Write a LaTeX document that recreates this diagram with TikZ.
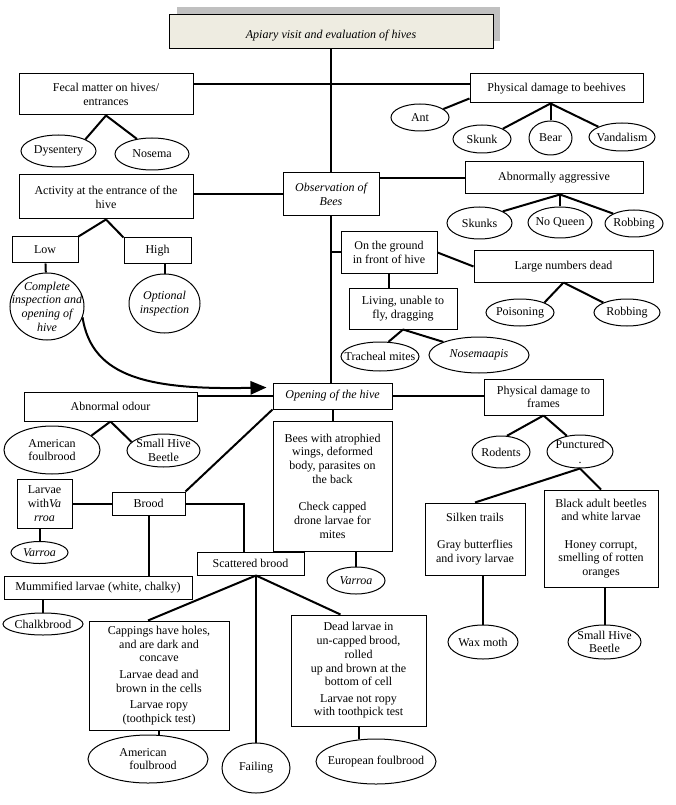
\documentclass[tikz,border=0pt]{standalone}
\usepackage{fontspec}
\setmainfont{Liberation Serif}
\usetikzlibrary{calc,arrows.meta,shapes.geometric}

\newcommand{\txtsize}{\fontsize{9}{10.3}\selectfont}

\tikzset{every picture/.style={line width=0.75pt}}
\tikzset{
  box/.style={draw, rectangle, inner sep=0.75pt, align=center, font=\txtsize},
  oval/.style={draw, ellipse, inner sep=0pt},
  ovtxt/.style={font=\txtsize, align=center, inner sep=0pt},
  ovit/.style={ovtxt, font=\txtsize\itshape},
  sz/.style 2 args={minimum width=#1*0.75pt, minimum height=#2*0.75pt},
  conn/.style={line width=1.5pt},
}

\begin{document}
\begin{tikzpicture}[x=0.75pt,y=0.75pt,yscale=-1,xscale=1]
\useasboundingbox (0,0) rectangle (675,805);

%Shape: Rectangle [id:dp_shadow]
\fill [color={rgb, 255:red, 192; green, 192; blue, 192 }] (177,7) rectangle (500,41);
%Shape: Rectangle [id:dp_title]
\node [box, sz={324}{34}, fill={rgb, 255:red, 238; green, 236; blue, 225 }, font=\txtsize\itshape, text height=12pt] (title) at (331,32) {Apiary visit and evaluation of hives};

% Text Node
\node [box, sz={174}{41}] (fecal) at (106,94.5) {Fecal matter on hives/\\entrances};
\node [box, sz={173}{29}] (phys) at (556.5,88.5) {Physical damage to beehives};
%Shape: Ellipse
\node [oval, sz={75}{32}, label={[ovtxt]center:Dysentery}] (dys) at (58.5,151) {};
\node [oval, sz={74}{32}, label={[ovtxt]center:Nosema}] (nosema) at (152,154) {};
\node [oval, sz={58}{27}, label={[ovtxt]center:Ant}] (ant) at (420,117.5) {};
\node [oval, sz={58}{28}, label={[ovtxt]center:Skunk}] (skunk) at (482,139) {};
\node [oval, sz={43}{34}, label={[ovtxt]center:Bear}] (bear) at (550.5,138) {};
\node [oval, sz={66}{28}, label={[ovtxt]center:Vandalism}] (vand) at (622,137) {};

% Text Node
\node [box, sz={174}{44}] (act) at (106,197) {Activity at the entrance of the\\hive};
\node [box, sz={96}{43}, font=\txtsize\itshape] (obs) at (331,194.5) {Observation of\\Bees};
\node [box, sz={178}{32}] (aggr) at (554,178) {Abnormally aggressive};
%Shape: Ellipse
\node [oval, sz={65}{32}, label={[ovtxt]center:Skunks}] (skunks) at (479.5,223) {};
\node [oval, sz={64}{31}, label={[ovtxt]center:No Queen}] (noqueen) at (560,222.5) {};
\node [oval, sz={58}{27}, label={[ovtxt]center:Robbing}] (robA) at (634,223.5) {};

% Text Node
\node [box, sz={66}{26}] (low) at (45,250) {Low};
\node [box, sz={67}{26}] (high) at (157.5,251) {High};
%Shape: Circle
\node [oval, sz={74}{67}, label={[ovit]center:{Complete\\inspection and\\opening of\\hive}}] (cmpl) at (47,306.5) {};
\node [oval, sz={71}{59}, label={[ovit]center:{Optional\\inspection}}] (opt) at (164.5,303.5) {};

% Text Node
\node [box, sz={96}{41}] (ground) at (389,252.5) {On the ground\\in front of hive};
\node [box, sz={179}{31}] (large) at (563.5,266.5) {Large numbers dead};
\node [oval, sz={68}{27}, label={[ovtxt]center:Poisoning}] (poison) at (520,312.5) {};
\node [oval, sz={66}{27}, label={[ovtxt]center:Robbing}] (robB) at (627,312.5) {};
\node [box, sz={108}{41}] (living) at (403,308.5) {Living, unable to\\fly, dragging};
\node [oval, sz={78}{29}, label={[ovtxt]center:Tracheal mites}] (trach) at (380,356.5) {};
\node [oval, sz={100}{36}, label={[ovit]center:Nosemaapis}] (napis) at (479,355) {};

% Text Node
\node [box, sz={119}{26}, font=\txtsize\itshape] (opening) at (332.5,396) {Opening of the hive};
\node [box, sz={119}{36}] (frames) at (543.5,397) {Physical damage to\\frames};
\node [box, sz={173}{29}] (odour) at (110.5,406.5) {Abnormal odour};
\node [oval, sz={96}{48}, label={[ovtxt]center:{American\\foulbrood}}] (afbA) at (52,450) {};
\node [oval, sz={73}{33}, label={[ovtxt]center:{Small Hive\\Beetle}}] (shbA) at (163.5,450.5) {};

% Text Node
\node [box, sz={119}{130}] (bees) at (332.5,486) {Bees with atrophied\\wings, deformed\\body, parasites on\\the back\\[10.3pt]Check capped\\drone larvae for\\mites};
\node [oval, sz={58}{27}, label={[ovit]center:Varroa}] (varB) at (356,580.5) {};
\node [box, sz={73}{23}] (brood) at (148.5,503.5) {Brood};
\node [box, sz={55}{49}] (larvae) at (44.5,503.5) {Larvae\\with\textit{Va}\\\textit{rroa}};
\node [oval, sz={57}{22}, label={[ovit]center:Varroa}] (varA) at (39.5,552.5) {};
\node [box, sz={107}{23}] (scat) at (250.5,563.5) {Scattered brood};
\node [box, sz={188}{23}] (mumm) at (98,587.5) {Mummified larvae (white, chalky)};
\node [oval, sz={80}{22}, label={[ovtxt]center:Chalkbrood}] (chalk) at (43,624) {};

% Text Node
\node [box, sz={140}{109}] (capp) at (159,675.5) {Cappings have holes,\\and are dark and\\concave\\[2pt]Larvae dead and\\brown in the cells\\[2pt]Larvae ropy\\(toothpick test)};
\node [oval, sz={120}{48}, label={[ovtxt, align=left]center:{American\\\hspace*{7.5pt}foulbrood}}] (afbB) at (148,759) {};
\node [oval, sz={68}{50}, label={[ovtxt]center:Failing}] (fail) at (256,768) {};
\node [box, sz={135}{111}] (dead) at (358.5,670.5) {Dead larvae in\\un-capped brood,\\rolled\\up and brown at the\\bottom of cell\\[2pt]Larvae not ropy\\with toothpick test};
\node [oval, sz={120}{45}, label={[ovtxt]center:European foulbrood}] (efb) at (376,761.5) {};

% Text Node
\node [oval, sz={58}{32}, label={[ovtxt]center:Rodents}] (rodents) at (501,452) {};
\node [oval, sz={66}{33}, label={[ovtxt]center:{Punctured\\[1pt].}}] (punct) at (580,451.5) {};
\node [box, sz={100}{72}] (silken) at (475,539) {Silken trails\\[10.3pt]Gray butterflies\\and ivory larvae};
\node [box, sz={114}{97}] (black) at (601,538.5) {Black adult beetles\\and white larvae\\[10.3pt]Honey corrupt,\\smelling of rotten\\oranges};
\node [oval, sz={70}{34}, label={[ovtxt]center:Wax moth}] (wax) at (483,642) {};
\node [oval, sz={73}{34}, label={[ovtxt]center:{Small Hive\\Beetle}}] (shbB) at (604.5,642) {};

%Straight Lines
\draw [conn] (title.south) -- (obs.north);
\draw [conn] (obs.south) -- (obs.south |- opening.north);
\draw [conn] (opening.south) -- (bees.north);
\draw [conn] ($(fecal.north east)+(0,11)$) -- ($(phys.north west)+(0,11)$);
\draw [conn] (fecal.south) -- (dys.north east);
\draw [conn] (fecal.south) -- (nosema.135);
\draw [conn] ($(phys.south west)+(0,-5)$) -- (ant.20);
\draw [conn] (bear.north |- phys.south) -- (skunk.north east);
\draw [conn] (bear.north |- phys.south) -- (bear.north);
\draw [conn] (bear.north |- phys.south) -- (vand.north west);
%Straight Lines
\draw [conn] (act.east |- obs.west) -- (obs.west);
\draw [conn] (obs.east |- aggr.west) -- (aggr.west);
\draw [conn] (noqueen.north |- aggr.south) -- (skunks.north east);
\draw [conn] (noqueen.north |- aggr.south) -- (noqueen.north);
\draw [conn] (noqueen.north |- aggr.south) -- (robA.north west);
\draw [conn] (act.south) -- (low.north east);
\draw [conn] (act.south) -- (high.north west);
\draw [conn] (low) -- (cmpl);
\draw [conn] (opt.north |- high.south) -- (opt.north);
%Curve Lines
\draw [conn, -{Triangle[length=12pt, width=10pt]}] (cmpl.-17) .. controls (92,378) and (150,390) .. ($(opening.north west)+(-6,5)$);
%Straight Lines
\draw [conn] (obs.south |- ground.west) -- (ground.west);
\draw [conn] (ground.east) -- (large.west);
\draw [conn] (large.south) -- (poison.north east);
\draw [conn] (large.south) -- (robB.north west);
\draw [conn] (ground.south) -- (ground.south |- living.north);
\draw [conn] (living.south) -- (trach.60);
\draw [conn] (living.south) -- (napis.north west);
%Straight Lines
\draw [conn] (opening.east) -- (opening.east -| frames.west);
\draw [conn] (frames.south) -- (rodents.70);
\draw [conn] (frames.south) -- (punct.130);
\draw [conn] (punct.south) -- (silken.north);
\draw [conn] (punct.south) -- (black.north);
\draw [conn] (wax.north |- silken.south) -- (wax.north);
\draw [conn] (shbB.north |- black.south) -- (shbB.north);
%Straight Lines
\draw [conn] (odour.east |- opening.west) -- (opening.west);
\draw [conn] (odour.south) -- (afbA.20);
\draw [conn] (odour.south) -- (shbA.165);
\draw [conn] (opening.south west) -- (brood.north east);
\draw [conn] (larvae) -- (brood);
\draw [conn] (varA.north |- larvae.south) -- (varA.north);
\draw [conn] (brood.east) -| ($(scat.north)+(-7,0)$);
\draw [conn] (brood.south) -- (brood.south |- mumm.north);
\draw [conn] (chalk.north |- mumm.south) -- (chalk.north);
\draw [conn] (varB.north |- bees.south) -- (varB.north);
%Straight Lines
\draw [conn] (fail.north |- scat.south) -- ($(capp.north)+(-11,0)$);
\draw [conn] (fail.north |- scat.south) -- (fail.north);
\draw [conn] (fail.north |- scat.south) -- ($(dead.north)+(-18,0)$);
\draw [conn] (capp.south) -- (capp.south |- afbB.north);
\draw [conn] (dead.south) -- (dead.south |- efb.north);

\end{tikzpicture}
\end{document}
